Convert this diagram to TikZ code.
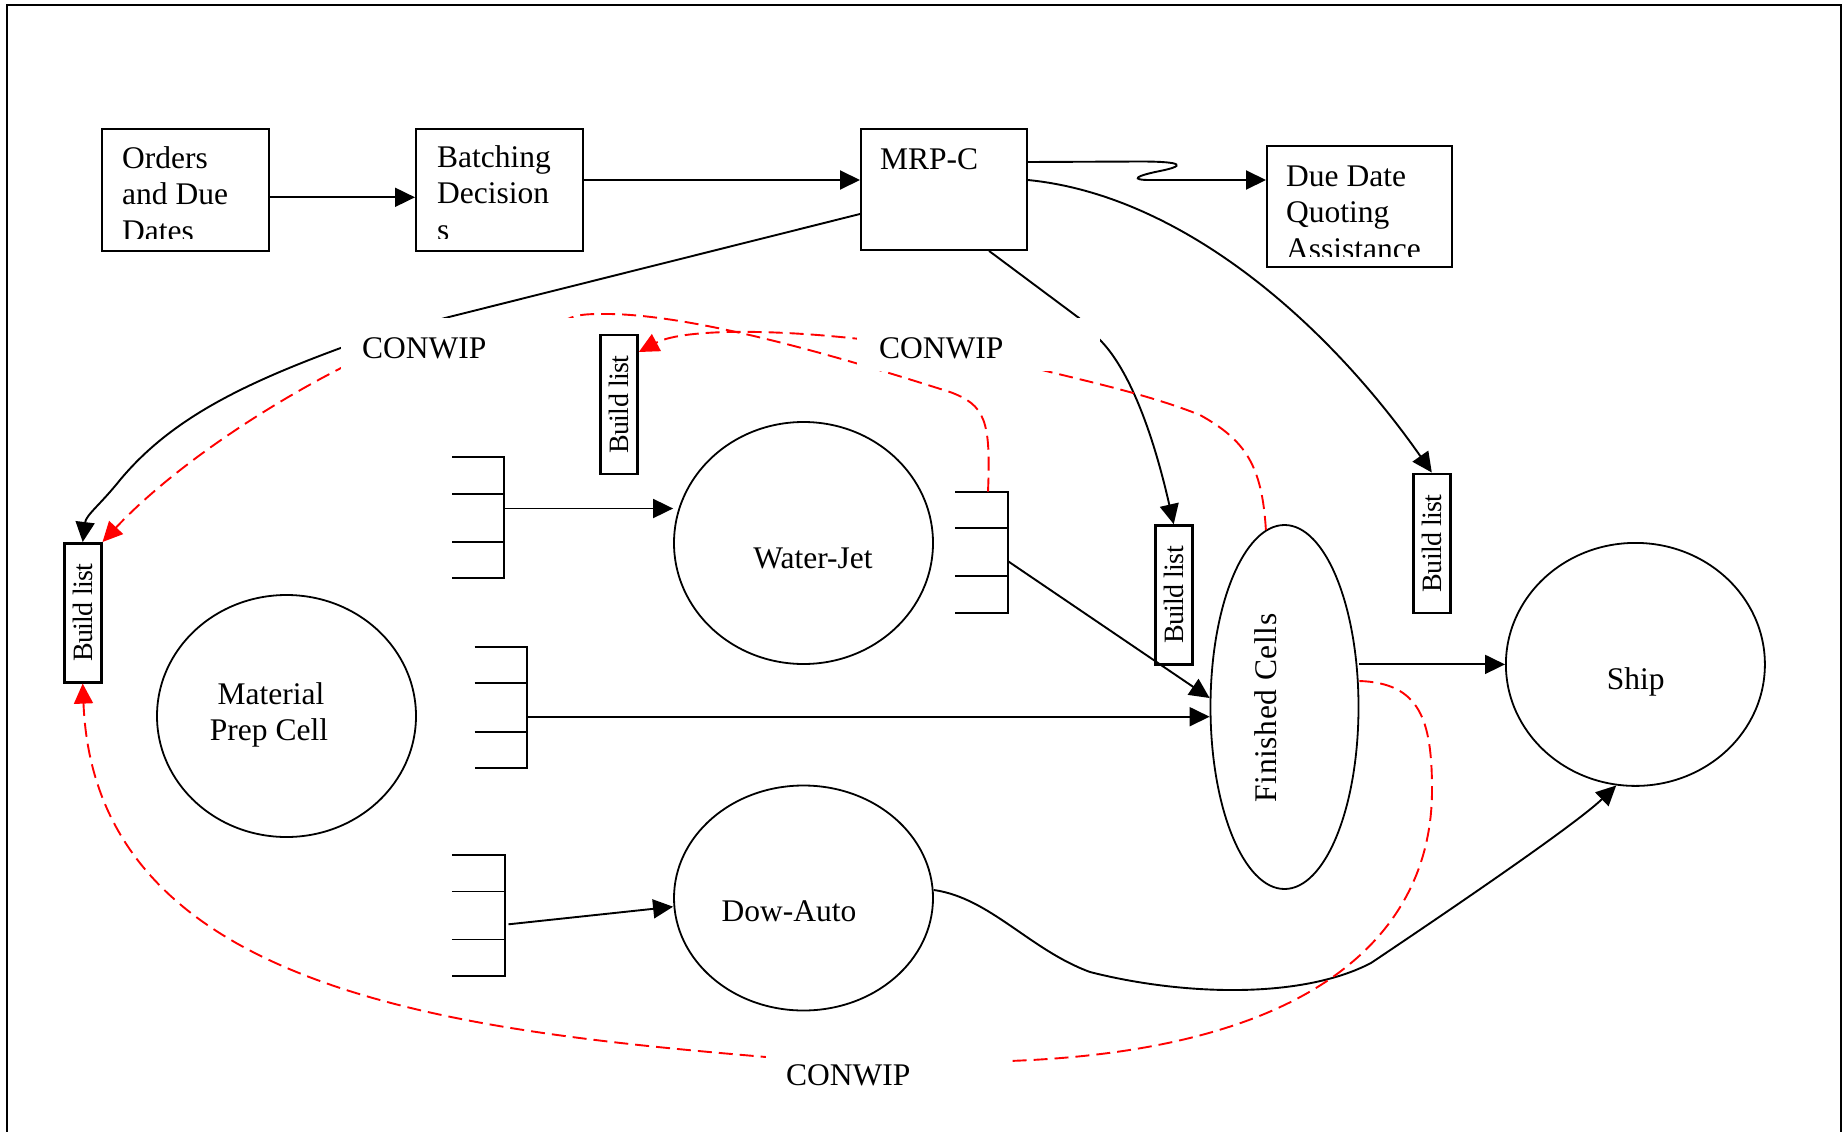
\documentclass[tikz,border=0pt]{standalone}
\usepackage{fontspec}
\usepackage{graphicx}
\setmainfont{Liberation Serif}
\usetikzlibrary{shapes.geometric,arrows.meta}
\newcommand\mainfs{\fontsize{31.5}{36.5}\selectfont}
\newcommand\blfont{\fontsize{28}{30}\selectfont\addfontfeature{LetterSpace=-2.5}}
\newcommand\fcfont{\fontsize{31.5}{36.5}\selectfont\addfontfeature{LetterSpace=2}}
\begin{document}
\begin{tikzpicture}[x=1pt,y=-1pt,
  box/.style={draw, line width=1.9pt, rectangle, inner sep=0pt, anchor=north west},
  blist/.style={draw, line width=2.6pt, rectangle, inner sep=0pt, minimum width=37pt, minimum height=139pt, font=\blfont},
  cell/.style={draw, line width=1.8pt, ellipse, inner sep=0pt},
  txt/.style={inner sep=0pt, anchor=base west, font=\mainfs},
  ctxt/.style={inner sep=0pt, anchor=base, font=\mainfs},
  conn/.style={line width=1.9pt, -{Triangle[length=20pt,width=19pt]}},
  fb/.style={red, line width=1.9pt, dash pattern=on 14pt off 7pt, -{Triangle[length=20pt,width=19pt]}},
  cwbox/.style={fill=white, inner sep=0pt, minimum width=243pt, minimum height=53pt, anchor=north west},
  ql/.style={line width=1.9pt}]
\useasboundingbox (0,0) rectangle (1847,1132);
% frame
\draw[line width=2pt] (7,1132) -- (7,5) -- (1841,5) -- (1841,1132);

% top boxes
\node[box, minimum width=167pt, minimum height=122pt] (orders) at (101,128) {};
\node[box, minimum width=167pt, minimum height=122pt] (batch) at (415,128) {};
\node[box, minimum width=166pt, minimum height=121pt] (mrp) at (860,128) {};
\node[box, minimum width=185pt, minimum height=121pt] (due) at (1266,145) {};
\begin{scope}
\clip (101,128) rectangle (268,238);
\node[txt] at (122,168) {Orders};
\node[txt] at (122,204.5) {and Due};
\node[txt] at (122,241) {Dates};
\end{scope}
\begin{scope}
\clip (415,128) rectangle (582,238);
\node[txt] at (437,167.5) {Batching};
\node[txt] at (437,203.5) {Decision};
\node[txt] at (437,240) {s};
\end{scope}
\node[txt] at (880,169) {MRP-C};
\begin{scope}
\clip (1266,145) rectangle (1451,256);
\node[txt] at (1286,186.5) {Due Date};
\node[txt] at (1286,222.5) {Quoting};
\node[txt] at (1286,259) {Assistance};
\end{scope}

% cells
\node[cell, minimum width=259pt, minimum height=242pt] (wj) at (803.5,543) {};
\node[cell, minimum width=259pt, minimum height=242pt] (mat) at (286.5,716) {};
\node[cell, minimum width=259pt, minimum height=225pt] (dow) at (803.5,898) {};
\node[cell, minimum width=148pt, minimum height=364pt] (fin) at (1284.5,707) {};
\node[cell, minimum width=259pt, minimum height=243pt] (ship) at (1635.4,664.4) {};
\node[ctxt] at (813,568) {Water-Jet};
\node[ctxt] at (271,704) {Material};
\node[ctxt] at (269,740.7) {Prep Cell};
\node[ctxt] at (789,921.7) {Dow-Auto};
\node[ctxt] at (1635.7,689) {Ship};
\node[inner sep=0pt, font=\fcfont, anchor=east] at (1277,708) {\rotatebox{90}{Finished Cells}};

% build lists
\node[blist] (lbuild) at (82.7,612.8) {\rotatebox{90}{Build list}};
\node[blist] (mbuild) at (619,404.5) {\rotatebox{90}{Build list}};
\node[blist] (mrbuild) at (1173.7,595) {\rotatebox{90}{Build list}};
\node[blist] (rbuild) at (1431.8,543.3) {\rotatebox{90}{Build list}};

% queues
\draw[ql] (452,457) -- (504.4,457) -- (504.4,577.7) -- (452,577.7) (452,493.6) -- (504.4,493.6) (452,542) -- (504.4,542);
\draw[ql] (955,491.7) -- (1007.7,491.7) -- (1007.7,612.7) -- (955,612.7) (955,528.3) -- (1007.7,528.3) (955,576) -- (1007.7,576);
\draw[ql] (474.6,646.7) -- (527.4,646.7) -- (527.4,768) -- (474.6,768) (474.6,683.3) -- (527.4,683.3) (474.6,731.7) -- (527.4,731.7);
\draw[ql] (451.8,855) -- (504.6,855) -- (504.6,975.7) -- (451.8,975.7) (451.8,891.5) -- (504.6,891.5) (451.8,939.5) -- (504.6,939.5);
\coordinate (wjin) at (504.4,508.5);
\coordinate (wjoutR) at (1007.7,561);
\coordinate (wjoutT) at (988,491.7);
\coordinate (matq) at (527.4,716.7);
\coordinate (dowin) at (508.5,924.3);

% black connectors
\draw[conn] (orders.east |- 0,197.3) -- (batch.west |- 0,197.3);
\draw[conn] (batch.east |- 0,180) -- (mrp.west |- 0,180);
\draw[conn] (mrp.east |- 0,162) -- (1140,161.5) .. controls (1185,161.5) and (1185,166) .. (1160,171) .. controls (1135,176) and (1130,180) .. (1150,180) -- (due.west |- 0,180);
\draw[conn] (mrp.east |- 0,180) .. controls (1180,195) and (1325,320) .. (rbuild.north);
\draw[conn] (mrp.south -| 989,0) -- (1079,318) -- (1100,340) .. controls (1125,365) and (1150,420) .. (mrbuild.north);
\draw[conn] (mrp.west |- 0,214) -- (445,318) -- (342,347.5) .. controls (240,385) and (170,420) .. (120,480) .. controls (100,505) and (86,515) .. (lbuild.north);
\draw[conn] (wjin) -- (wj.west |- wjin);
\draw[conn] (dowin) -- (dow.west |- 0,906.7);
\draw[conn] (matq) -- (fin.west |- matq);
\draw[conn] (wjoutR) -- (fin.west |- 0,698);
\draw[conn] (fin.east |- 0,664.4) -- (ship.west);
\draw[conn] (dow.east |- 0,890) .. controls (990,898) and (1030,950) .. (1090,972) .. controls (1180,995) and (1300,1000) .. (1371,963) .. controls (1450,910) and (1575,825) .. (ship.261);

% red feedback connectors
\draw[fb] (wjoutT) .. controls (991,420) and (985,405) .. (950,392) .. controls (880,370) and (700,312) .. (600,314) .. controls (580,314) and (570,316) .. (560,324) -- (345,366) .. controls (262,408) and (170,470) .. (lbuild.north east);
\draw[fb] (fin.96) .. controls (1262,465) and (1245,440) .. (1200,415) .. controls (1150,395) and (1090,382) .. (1038,369) -- (860,339) .. controls (760,328) and (680,330) .. (mbuild.east |- 0,352);
\draw[fb] (fin.east |- 0,681) .. controls (1420,683) and (1432,720) .. (1432,790) .. controls (1432,930) and (1320,1050) .. (1009,1061) -- (766,1057) .. controls (450,1030) and (95,990) .. (lbuild.south);

% CONWIP labels (white text boxes)
\node[cwbox] (cw1) at (341,318) {};
\node[cwbox] (cw2) at (857,318) {};
\node[cwbox] (cw3) at (766,1043) {};
\node[txt] at (362,358) {CONWIP};
\node[txt] at (879,358) {CONWIP};
\node[txt] at (786,1085) {CONWIP};
\end{tikzpicture}
\end{document}
